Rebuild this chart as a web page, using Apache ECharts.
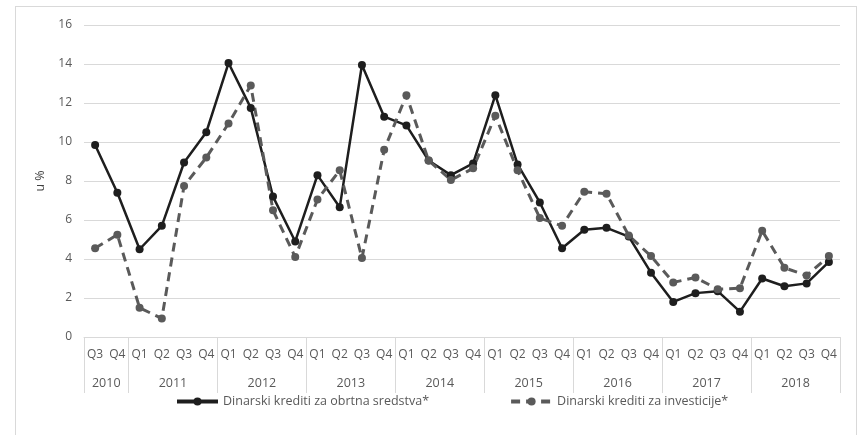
<!DOCTYPE html>
<html>
<head>
<meta charset="utf-8">
<script src="https://cdn.jsdelivr.net/npm/echarts@6/dist/echarts.min.js"></script>
<style>
  html, body { margin: 0; padding: 0; background: #fff; }
  #frame { position: absolute; left: 15px; top: 6px; width: 842px; height: 440px; border: 1px solid #d9d9d9; box-sizing: border-box; }
  #chart { position: absolute; left: 0; top: 0; width: 863px; height: 435px; }
</style>
</head>
<body>
<div id="frame"></div>
<div id="chart"></div>
<script>
// Quarters 2010 Q3 .. 2018 Q4
const quarters = ['Q3', 'Q4',
  'Q1', 'Q2', 'Q3', 'Q4', 'Q1', 'Q2', 'Q3', 'Q4', 'Q1', 'Q2', 'Q3', 'Q4',
  'Q1', 'Q2', 'Q3', 'Q4', 'Q1', 'Q2', 'Q3', 'Q4', 'Q1', 'Q2', 'Q3', 'Q4',
  'Q1', 'Q2', 'Q3', 'Q4', 'Q1', 'Q2', 'Q3', 'Q4'];
const years = ['2010', '2011', '2012', '2013', '2014', '2015', '2016', '2017', '2018'];
const quartersPerYear = [2, 4, 4, 4, 4, 4, 4, 4, 4];

const obrtna = [9.85, 7.4,
  4.5, 5.7, 8.95, 10.5,
  14.05, 11.75, 7.2, 4.9,
  8.3, 6.65, 13.95, 11.3,
  10.85, 9.05, 8.3, 8.9,
  12.4, 8.85, 6.9, 4.55,
  5.5, 5.6, 5.15, 3.3,
  1.8, 2.25, 2.35, 1.3,
  3.0, 2.6, 2.75, 3.85];
const investicije = [4.55, 5.25,
  1.5, 0.95, 7.75, 9.2,
  10.95, 12.9, 6.5, 4.1,
  7.05, 8.55, 4.05, 9.6,
  12.4, 9.05, 8.05, 8.65,
  11.35, 8.55, 6.1, 5.7,
  7.45, 7.35, 5.2, 4.15,
  2.8, 3.05, 2.45, 2.5,
  5.45, 3.55, 3.15, 4.15];

const seriesNames = ['Dinarski krediti za obrtna sredstva*', 'Dinarski krediti za investicije*'];

// year group boundaries and centres on a 0..N scale
const bounds = [0];
quartersPerYear.forEach(n => bounds.push(bounds[bounds.length - 1] + n));
const centres = quartersPerYear.map((n, i) => bounds[i] + n / 2);

const FONT = 'Open Sans, Liberation Sans, sans-serif';
const TXT = '#595959';
const GRIDC = '#d9d9d9';

const chart = echarts.init(document.getElementById('chart'));
chart.setOption({
  animation: false,
  textStyle: { fontFamily: FONT },
  grid: { left: 84, right: 23, top: 25, bottom: 98 },
  legend: {
    bottom: 22,
    left: 170,
    itemGap: 80,
    itemWidth: 41,
    itemHeight: 10,
    lineStyle: { width: 4 },
    textStyle: { color: TXT, fontSize: 12.5, fontFamily: FONT },
    data: seriesNames
  },
  xAxis: [{
    type: 'category',
    data: quarters,
    boundaryGap: true,
    axisLine: { lineStyle: { color: GRIDC } },
    axisTick: { show: false },
    axisLabel: { color: TXT, fontSize: 12, margin: 12, interval: 0 }
  }, {
    type: 'value',
    position: 'bottom',
    min: 0,
    max: quarters.length,
    axisLine: { show: false },
    splitLine: { show: false },
    axisTick: { show: true, customValues: bounds, length: 56, lineStyle: { color: GRIDC } },
    axisLabel: {
      customValues: centres,
      color: TXT, fontSize: 12.5, margin: 40,
      formatter: v => years[centres.indexOf(v)] || ''
    }
  }],
  yAxis: {
    type: 'value',
    min: 0,
    max: 16,
    interval: 2,
    name: 'u %',
    nameLocation: 'middle',
    nameGap: 32,
    nameTextStyle: { color: '#404040', fontSize: 12.5 },
    axisLine: { show: false },
    axisTick: { show: false },
    axisLabel: { color: TXT, fontSize: 12, margin: 12 },
    splitLine: { lineStyle: { color: GRIDC, width: 1 } }
  },
  series: [{
    name: seriesNames[0],
    type: 'line',
    data: obrtna,
    symbol: 'circle',
    symbolSize: 8,
    lineStyle: { color: '#1e1e1e', width: 2.5 },
    itemStyle: { color: '#1e1e1e' }
  }, {
    name: seriesNames[1],
    type: 'line',
    data: investicije,
    symbol: 'circle',
    symbolSize: 8,
    lineStyle: { color: '#5a5a5a', width: 3, type: [9, 6] },
    itemStyle: { color: '#5a5a5a' }
  }]
});
</script>
</body>
</html>
